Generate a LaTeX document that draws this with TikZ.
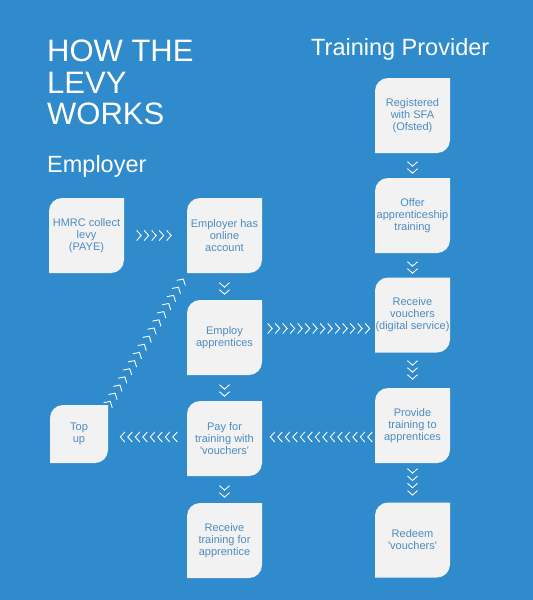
\documentclass[tikz,border=0pt]{standalone}
\usepackage{fontspec}
\setmainfont{Liberation Sans}
\usetikzlibrary{calc,decorations.markings}

\definecolor{levyblue}{RGB}{47,139,204}
\definecolor{boxgrey}{RGB}{242,242,242}
\definecolor{boxtext}{RGB}{76,140,194}

% box with rounded top left and bottom right corners
\newcommand{\leafshape}{%
  \fill[boxgrey] (path picture bounding box.south west)
    -- ([yshift=-13pt]path picture bounding box.north west)
    arc[start angle=180, end angle=90, radius=13pt]
    -- (path picture bounding box.north east)
    -- ([yshift=13pt]path picture bounding box.south east)
    arc[start angle=0, end angle=-90, radius=13pt]
    -- cycle;}

\tikzset{
  leaf/.style={minimum width=75pt, minimum height=75pt, inner sep=0pt, align=center,
    text=boxtext, font=\fontsize{11}{12}\selectfont, path picture={\leafshape}},
  chev/.style={postaction={decorate}, decoration={markings,
    mark=between positions 0 and 1 step #1 with {\draw[white, line width=0.9pt] (-4.5pt,5pt) -- (0pt,0pt) -- (-4.5pt,-5pt);}}},
  heading/.style={text=white, inner sep=0pt, font=\fontsize{23.5}{26}\selectfont},
}

\begin{document}
\begin{tikzpicture}[x=1pt,y=-1pt]
\fill[levyblue] (0,0) rectangle (533,600); %background
\useasboundingbox (0,0) rectangle (533,600);

\node[heading, anchor=north west, align=left, font=\fontsize{31}{31.5}\selectfont] (title) at (47,40) {HOW THE\\LEVY\\WORKS};
\node[heading, anchor=base west] (employer) at (47,172) {Employer};
\node[heading, anchor=base west] (provider) at (311,55) {Training Provider};

% employer side
\node[leaf] (hmrc) at (86.5,235.5) {HMRC collect\\levy\\(PAYE)};
\node[leaf] (account) at (224.5,235.5) {Employer has\\online\\account};
\node[leaf] (employ) at (224.5,337.5) {Employ\\apprentices};
\node[leaf] (pay) at (224.5,438.5) {Pay for\\training with\\\textquotesingle vouchers\textquotesingle};
\node[leaf, minimum width=58pt, minimum height=58pt] (topup) at (79,434) {Top\\up};
\node[leaf] (gettraining) at (224.5,540.5) {Receive\\training for\\apprentice};

% training provider side
\node[leaf] (registered) at (412.5,115.5) {Registered\\with SFA\\(Ofsted)};
\node[leaf] (offer) at (412.5,215.5) {Offer\\apprenticeship\\training};
\node[leaf] (vouchers) at (412.5,315) {Receive\\vouchers\\(digital service)};
\node[leaf] (provide) at (412.5,425.5) {Provide\\training to\\apprentices};
\node[leaf] (redeem) at (412.5,540) {Redeem\\\textquotesingle vouchers\textquotesingle};

% chevrons down
\path[chev=7pt] ([yshift=-14pt]account.south) -- ([yshift=4.5pt]employ.north);
\path[chev=7pt] ([yshift=-14pt]employ.south) -- ([yshift=4.5pt]pay.north);
\path[chev=7pt] ([yshift=-14pt]pay.south) -- ([yshift=4.5pt]gettraining.north);
\path[chev=7pt] ([yshift=-13pt]registered.south) -- ([yshift=3.5pt]offer.north);
\path[chev=7pt] ([yshift=-13pt]offer.south) -- ([yshift=3.5pt]vouchers.north);
\path[chev=7pt] ([yshift=-12.5pt]vouchers.south) -- ([yshift=7.5pt]provide.north);
\path[chev=7.3pt] ([yshift=-10pt]provide.south) -- ([yshift=6pt]redeem.north);

% chevrons across
\path[chev=7.5pt] ([xshift=17pt]hmrc.east) -- ([xshift=-15pt]account.west);
\path[chev=7.5pt] ([xshift=10pt,yshift=9pt]employ.east) -- ([xshift=-4pt,yshift=-13.5pt]vouchers.west);
\path[chev=7.5pt] ([xshift=-7pt,yshift=-11.5pt]provide.west) -- ([xshift=7pt,yshift=1.5pt]pay.east);
\path[chev=7.5pt] ([xshift=-14pt,yshift=1.5pt]pay.west) -- ([xshift=11pt,yshift=-3pt]topup.east);

% top up back to account
\path[chev=9.5pt] ($(topup.north east)!4pt!(account.south west)$) -- ($(account.south west)!6pt!(topup.north east)$);
\end{tikzpicture}
\end{document}
